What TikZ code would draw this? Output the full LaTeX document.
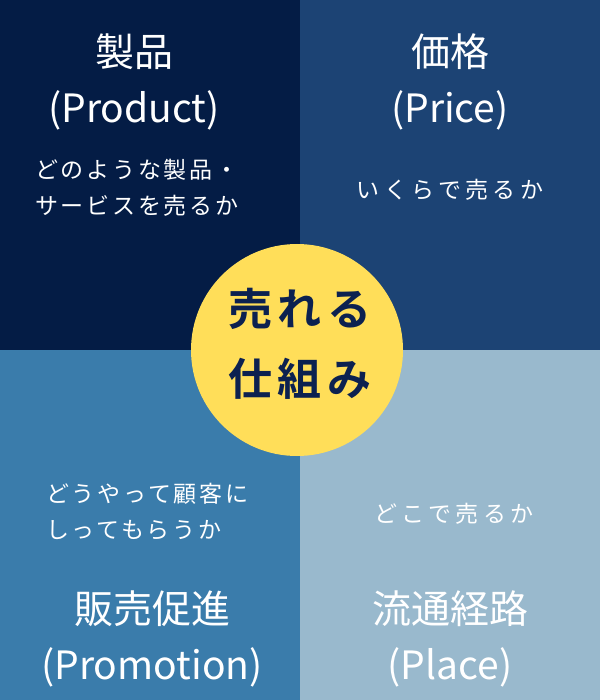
\documentclass[tikz,border=0pt]{standalone}
\usepackage{fontspec}
\newfontfamily\jp{Noto Sans CJK JP}
\newfontfamily\jpsp[LetterSpace=12]{Noto Sans CJK JP}
\newfontfamily\jpwide[LetterSpace=19]{Noto Sans CJK JP}
\newfontfamily\jpbold[LetterSpace=12]{Noto Sans CJK JP Bold}
\definecolor{qtl}{HTML}{041C45}
\definecolor{qtr}{HTML}{1C4374}
\definecolor{qbl}{HTML}{3A7CAB}
\definecolor{qbr}{HTML}{99B9CD}
\definecolor{sun}{HTML}{FFDE59}
\definecolor{ink}{HTML}{0C2150}
\tikzset{
  title/.style={text=white, font=\jp\fontsize{39}{44}\selectfont, inner sep=0pt, align=center},
  sub/.style={text=white, font=\jpsp\fontsize{23}{36}\selectfont, inner sep=0pt, align=left},
  subwide/.style={text=white, font=\jpwide\fontsize{23}{36}\selectfont, inner sep=0pt, align=center},
  core/.style={text=ink, font=\jpbold\fontsize{44}{70}\selectfont, inner sep=0pt, align=center}
}
\begin{document}
\begin{tikzpicture}[x=1pt,y=-1pt]
\useasboundingbox (0,0) rectangle (600,700);
\fill[qtl] (0,0) rectangle (300,350);
\fill[qtr] (300,0) rectangle (600,350);
\fill[qbl] (0,350) rectangle (300,700);
\fill[qbr] (300,350) rectangle (600,700);
\node[circle, fill=sun, minimum size=212pt, inner sep=0pt] (hub) at (297,350) {};
\node[core] (hubtext) at (300,344) {売れる\\仕組み};
% top-left
\node[title] (p1) at (134,52) {製品};
\node[title] (p2) at (134,110) {(Product)};
\node[sub, anchor=west] (p3) at (35,188) {どのような製品・\\サービスを売るか};
% top-right
\node[title] (r1) at (450,52) {価格};
\node[title] (r2) at (450,110) {(Price)};
\node[subwide] (r3) at (450,190) {いくらで売るか};
% bottom-left
\node[sub, anchor=west] (m3) at (46,512) {どうやって顧客に\\しってもらうか};
\node[title] (m1) at (152,609) {販売促進};
\node[title] (m2) at (152,667) {(Promotion)};
% bottom-right
\node[subwide] (l3) at (454,514) {どこで売るか};
\node[title] (l1) at (450,609) {流通経路};
\node[title] (l2) at (450,667) {(Place)};
\end{tikzpicture}
\end{document}
